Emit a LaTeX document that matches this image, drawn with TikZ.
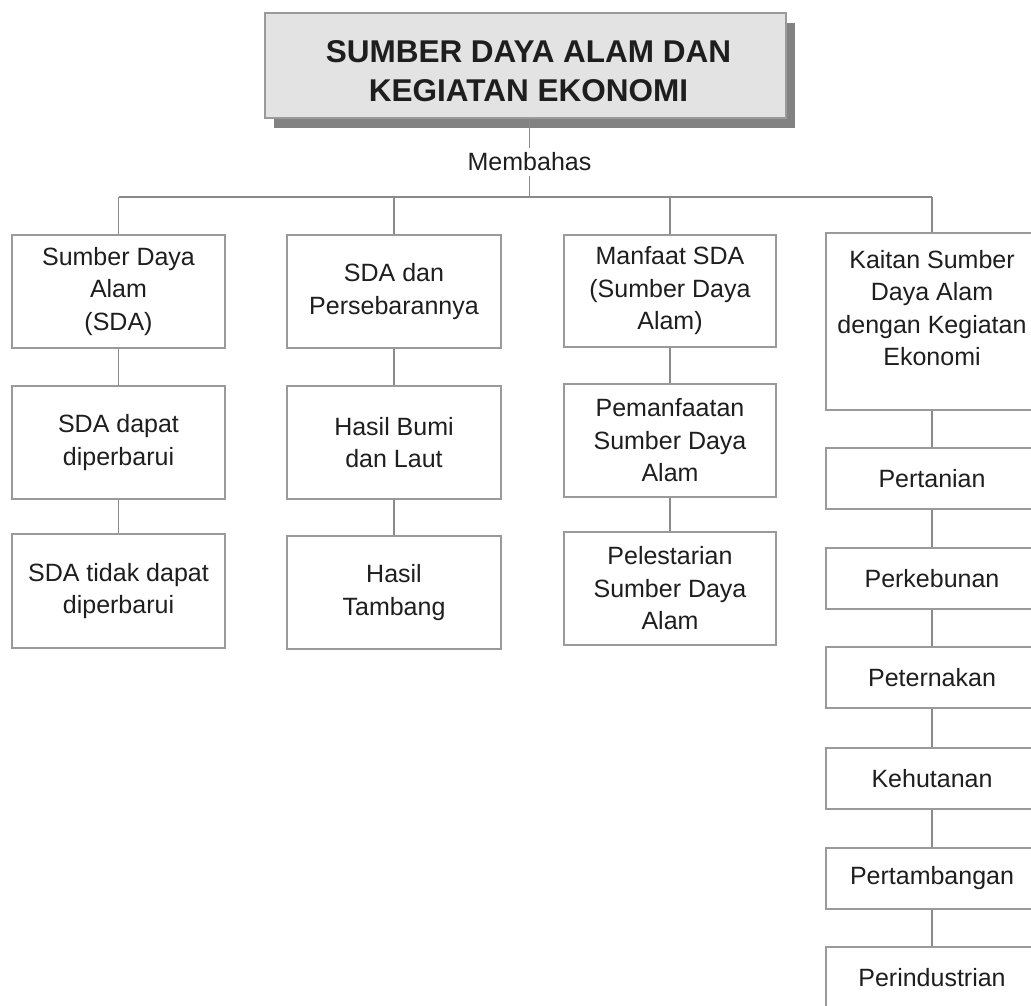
\documentclass[tikz,border=0pt]{standalone}
\usepackage{fontspec}
\setmainfont{Liberation Sans}
\definecolor{txt}{HTML}{1E1E1E}
\definecolor{boxgray}{HTML}{9A9A9A}
\definecolor{linegray}{HTML}{8A8A8A}
\definecolor{titlefill}{HTML}{E3E3E3}
\definecolor{shadowgray}{HTML}{828282}
\begin{document}
\begin{tikzpicture}[x=1pt,y=-1pt,
  box/.style={draw=boxgray, line width=1.6pt, fill=white, inner sep=0pt, align=center,
    font=\fontsize{25}{32.5}\selectfont, text=txt},
  lbl/.style={inner sep=0pt, align=center, font=\fontsize{25}{32.5}\selectfont, text=txt},
  conn/.style={draw=linegray, line width=1.4pt},
  col1/.style={box, minimum width=213pt},
  col2/.style={box, minimum width=214pt},
  col3/.style={box, minimum width=212pt},
  col4/.style={box, minimum width=212pt}]
\path[use as bounding box] (0,0) rectangle (1031,1006);
\clip (0,0) rectangle (1031,1006);
\fill[white] (0,0) rectangle (1031,1006);

% title
\fill[shadowgray] (274,23) rectangle (795,128);
\node[draw=boxgray, line width=1.8pt, fill=titlefill, minimum width=521pt, minimum height=105pt, inner sep=0pt] (title) at (525.5,65.5) {};
\node[inner sep=0pt, align=center, font=\fontsize{31.5}{39}\bfseries, text=txt] (titletext) at (528.5,71) {SUMBER DAYA ALAM DAN\\KEGIATAN EKONOMI};

% Membahas
\node[lbl, inner xsep=0pt, inner ysep=5pt] (mem) at (529.5,162) {Membahas};
\coordinate (hc) at (529.5,197);
\draw[conn] (title.south -| mem) -- (mem);
\draw[conn] (mem) -- (hc);

% hub coordinates
\coordinate (h1) at (118.5,197);
\coordinate (h2) at (394,197);
\coordinate (h3) at (670,197);
\coordinate (h4) at (932,197);
\draw[conn] (h1) -- (h4);

% column 1
\node[col1, minimum height=113pt] (a1) at (118.5,291.5) {Sumber Daya\\Alam\\(SDA)};
\node[col1, minimum height=113pt] (a2) at (118.5,442.5) {SDA dapat\\diperbarui};
\node[col1, minimum height=114pt] (a3) at (118.5,591) {SDA tidak dapat\\diperbarui};

% column 2
\node[col2, minimum height=113pt] (b1) at (394,291.5) {SDA dan\\Persebarannya};
\node[col2, minimum height=113pt] (b2) at (394,442.5) {Hasil Bumi\\dan Laut};
\node[col2, minimum height=113pt] (b3) at (394,592.5) {Hasil\\Tambang};

% column 3
\node[col3, minimum height=112pt] (c1) at (670,291) {Manfaat SDA\\(Sumber Daya\\Alam)};
\node[col3, minimum height=113pt] (c2) at (670,440.5) {Pemanfaatan\\Sumber Daya\\Alam};
\node[col3, minimum height=113pt] (c3) at (670,588.5) {Pelestarian\\Sumber Daya\\Alam};

% column 4
\node[col4, minimum height=177pt] (d1) at (932,321.5) {};
\node[lbl] (d1text) at (932,308) {Kaitan Sumber\\Daya Alam\\dengan Kegiatan\\Ekonomi};
\node[col4, minimum height=61pt] (d2) at (932,478.5) {Pertanian};
\node[col4, minimum height=61pt] (d3) at (932,578.5) {Perkebunan};
\node[col4, minimum height=61pt] (d4) at (932,677.5) {Peternakan};
\node[col4, minimum height=61pt] (d5) at (932,778.5) {Kehutanan};
\node[col4, minimum height=61pt] (d6) at (932,878.5) {Pertambangan};
\node[col4, minimum height=61pt] (d7) at (932,977.5) {Perindustrian};

% drops
\draw[conn] (h1) -- (a1);
\draw[conn] (h2) -- (b1);
\draw[conn] (h3) -- (c1);
\draw[conn] (h4) -- (d1);

% column connectors
\draw[conn] (a1) -- (a2);
\draw[conn] (a2) -- (a3);
\draw[conn] (b1) -- (b2);
\draw[conn] (b2) -- (b3);
\draw[conn] (c1) -- (c2);
\draw[conn] (c2) -- (c3);
\draw[conn] (d1) -- (d2);
\draw[conn] (d2) -- (d3);
\draw[conn] (d3) -- (d4);
\draw[conn] (d4) -- (d5);
\draw[conn] (d5) -- (d6);
\draw[conn] (d6) -- (d7);
\end{tikzpicture}
\end{document}
